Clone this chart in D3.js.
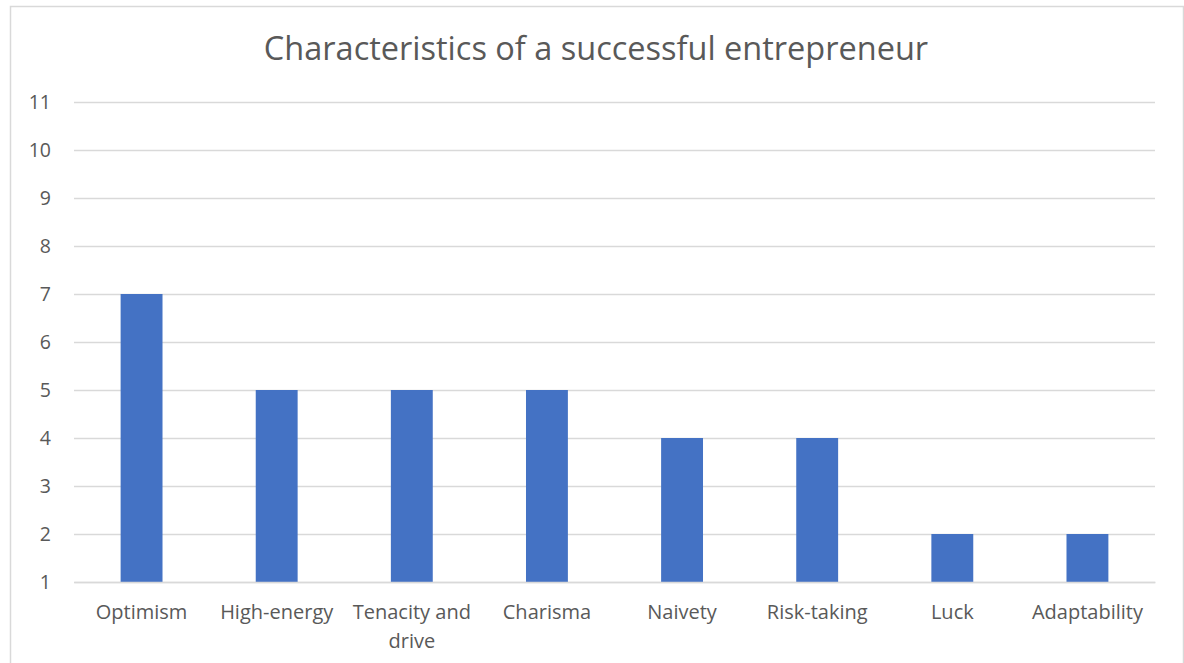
<!DOCTYPE html>
<html><head><meta charset="utf-8">
<script src="https://cdn.jsdelivr.net/npm/d3@7"></script>
<style>html,body{margin:0;padding:0;background:#fff;}</style>
</head><body>
<svg id="c" width="1184" height="663"></svg>
<script>
const categories = ["Optimism","High-energy","Tenacity and drive","Charisma","Naivety","Risk-taking","Luck","Adaptability"];
const values = [7,5,5,5,4,4,2,2];
const yTicks = [1,2,3,4,5,6,7,8,9,10,11];
const title = "Characteristics of a successful entrepreneur";

(function(){
const svg = d3.select("#c");
const font = "'Open Sans', sans-serif";
const textColor = "#595959";
const pLeft = 74, pRight = 1155, pTop = 102, pBottom = 582;

svg.append("rect").attr("x",10.5).attr("y",6.5).attr("width",1173).attr("height",670)
  .attr("fill","#fff").attr("stroke","#d9d9d9").attr("stroke-width",1.5);

const x = d3.scaleBand().domain(categories).range([pLeft,pRight]).paddingInner(0.69).paddingOuter(0.345);
const y = d3.scaleLinear().domain([1,11]).range([pBottom,pTop]);

svg.append("text").attr("x",596).attr("y",60).attr("text-anchor","middle")
  .attr("font-family",font).attr("font-size",32.5).attr("fill",textColor).text(title);

const yAxis = svg.append("g").attr("transform",`translate(${pLeft},0)`)
  .call(d3.axisLeft(y).tickValues(yTicks).tickSize(-(pRight-pLeft)).tickFormat(d3.format("d")));
yAxis.select(".domain").remove();
yAxis.selectAll(".tick line").attr("stroke","#d9d9d9").attr("stroke-width",1.5);
yAxis.selectAll(".tick text").attr("x",-23).attr("font-family",font).attr("font-size",19.5).attr("fill",textColor);

svg.append("g").selectAll("rect").data(categories).join("rect")
  .attr("x",d=>x(d)).attr("width",x.bandwidth())
  .attr("y",(d,i)=>y(values[i])).attr("height",(d,i)=>y(1)-y(values[i]))
  .attr("fill","#4472c4");

const xAxis = svg.append("g").attr("transform",`translate(0,${pBottom})`)
  .call(d3.axisBottom(x).tickSize(0).tickPadding(0));
xAxis.select(".domain").attr("stroke","#d9d9d9").attr("stroke-width",1.5);
xAxis.selectAll(".tick text").attr("font-family",font).attr("font-size",20).attr("fill",textColor)
  .each(function(d){
    const t = d3.select(this);
    t.text(null).attr("dy",null).attr("y",0);
    const lines = d==="Tenacity and drive" ? ["Tenacity and","drive"] : [d];
    lines.forEach((l,i)=>t.append("tspan").attr("x",0).attr("y",37+i*29).text(l));
  });
})();
</script>
</body></html>
